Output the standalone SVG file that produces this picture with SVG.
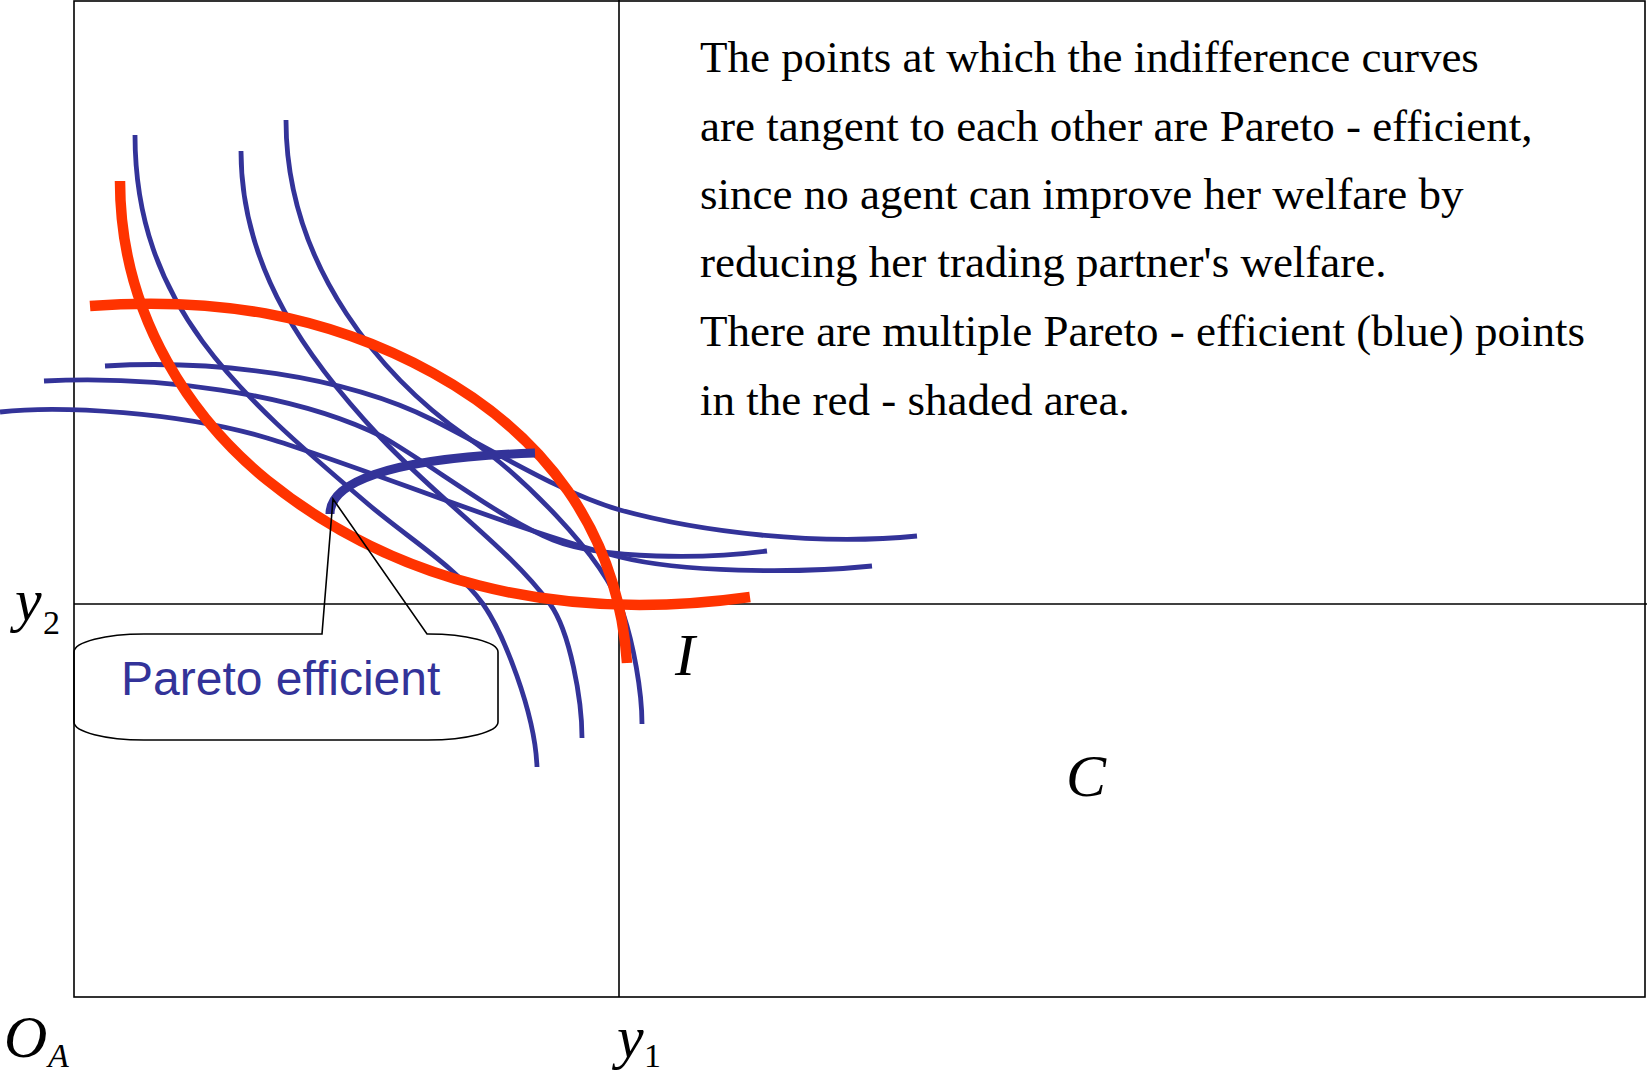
<svg xmlns="http://www.w3.org/2000/svg" width="1647" height="1076" viewBox="0 0 1647 1076">
<style>
.frame{fill:none;stroke:#000;stroke-width:1.6}
.red{fill:none;stroke:#FF3300;stroke-width:10.5;stroke-linecap:butt}
.blue{fill:none;stroke:#333399;stroke-width:4.8;stroke-linecap:butt}
.thick{fill:none;stroke:#333399;stroke-width:9;stroke-linecap:butt}
.call{fill:none;stroke:#000;stroke-width:1.6;stroke-linejoin:miter}
.body{font-family:"Liberation Serif","Times New Roman",serif;font-size:45px;fill:#000}
.lab{font-family:"Liberation Serif","Times New Roman",serif;font-size:60px;font-style:italic;fill:#000}
.sub{font-family:"Liberation Serif","Times New Roman",serif;font-size:34px;fill:#000}
.pe{font-family:"Liberation Sans",Arial,sans-serif;font-size:48px;fill:#333399}
</style>
<rect width="1647" height="1076" fill="#fff"/>
<g id="frame">
<rect class="frame" x="74" y="1" width="1571" height="996"/>
<line class="frame" x1="619" y1="0" x2="619" y2="997"/>
<line class="frame" x1="74" y1="604" x2="1647" y2="604"/>
</g>
<g id="curves">
<path id="F1" class="blue" d="M105,366 C215,359.5 343,375 433,420 C493,450 560,493 620,510 C700,532 817,546 917,536"/>
<path id="F2" class="blue" d="M44,381 C154,375.5 293,392 383,437 C433,466 503,520 553,540 C603,560 707,559 767,551"/>
<path id="F3" class="blue" d="M0,412 C60,405 180,412 267,438 C357,465 520,532 620,557 C680,572 792,574 872,566"/>
<path id="B1" class="blue" d="M135,135 C135,305 238,393.5 368,504 C408,538 458,568.5 483,604 C503,632.4 535,712 537,767"/>
<path id="B2" class="blue" d="M241,151 C241,271 310,362 380,437 C440,501 510,549 550,604 C570,631.5 582,700 582,738"/>
<path id="B3" class="blue" d="M286,120 C286,270 387,381 467,437 C517,472 603,553 623,613 C633,643 642,690 642,724"/>
<path id="RA" class="red" d="M120,181 C120,321 197,423 267,480 C387,577 550,625 750,597"/>
<path id="RB" class="red" d="M90,306 C210,297 323,312.5 433,373 C543,433.5 618,530 627,663"/>
<path id="pareto" class="thick" d="M330,514 C330,485 380,458 535,453"/>
</g>
<g id="callout">
<path class="call" d="M322,634 L333,499 L427,634 A70,18 0 0 1 498,652 L498,722 A70,18 0 0 1 428,740 L144,740 A70,18 0 0 1 74,722 L74,652 A70,18 0 0 1 144,634 Z"/>
<text class="pe" x="121" y="695">Pareto efficient</text>
</g>
<g id="labels">
<text class="lab" x="15" y="620">y</text><text class="sub" x="43" y="634">2</text>
<text class="lab" x="675" y="675">I</text>
<text class="lab" x="1066" y="796">C</text>
<text class="lab" x="4" y="1057">O</text><text class="sub" x="48" y="1067" font-style="italic">A</text>
<text class="lab" x="617" y="1057">y</text><text class="sub" x="644" y="1067">1</text>
</g>
<g id="note" class="body">
<text x="700" y="72">The points at which the indifference curves</text>
<text x="700" y="140.7">are tangent to each other are Pareto - efficient,</text>
<text x="700" y="209">since no agent can improve her welfare by</text>
<text x="700" y="277.3">reducing her trading partner's welfare.</text>
<text x="700" y="346">There are multiple Pareto - efficient (blue) points</text>
<text x="700" y="415">in the red - shaded area.</text>
</g>
</svg>
